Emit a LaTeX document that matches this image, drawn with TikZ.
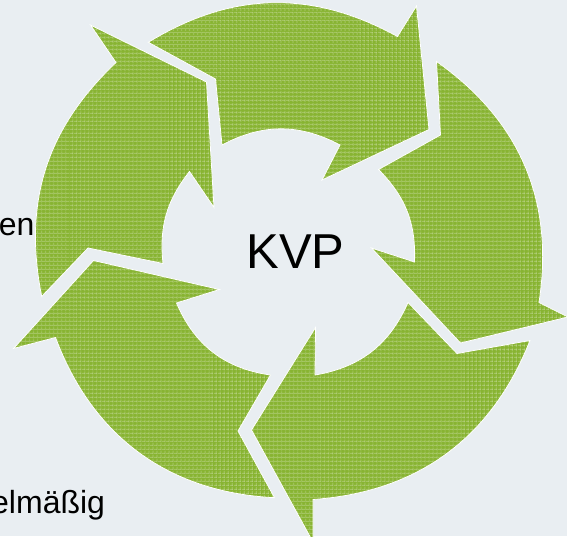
\documentclass[tikz,border=0pt]{standalone}
\usepackage{fontspec}
\setmainfont{Liberation Sans}
\usetikzlibrary{patterns.meta}
\definecolor{kvpgreen}{RGB}{136,180,50}
\definecolor{slidebg}{RGB}{233,238,242}
\begin{document}
\begin{tikzpicture}[x=1pt, y=1pt,
    segment/.style={fill=kvpgreen, draw=white, line width=0.8pt, line join=miter,
        postaction={pattern={Lines[angle=0, distance=4pt, line width=1pt]}, pattern color=white, fill opacity=0.22},
        postaction={pattern={Lines[angle=90, distance=4pt, line width=1pt]}, pattern color=white, fill opacity=0.22}},
    word/.style={anchor=base west, inner sep=0pt, font=\fontsize{32}{38}\selectfont},
    title/.style={anchor=base west, inner sep=0pt, font=\fontsize{49}{58}\selectfont}
]
    \useasboundingbox (0,0) rectangle (567,536);
    \clip (0,0) rectangle (567,536);
    \fill[slidebg] (0,0) rectangle (567,536);

    % Top arrow
    \filldraw[segment] (148.3,493.7) -- (215.5,457) -- (222,391) to[bend left=27.9] (340,391)
        -- (322,356) -- (429,406.5) -- (416.5,530) -- (397.5,499.5)
        to[bend right=30.1] (148.3,493.7) -- cycle;

    % Right arrow
    \filldraw[segment] (436.5,474.5) -- (440.5,401) -- (378.5,366.5) to[bend left=23.4] (414.5,274)
        -- (371.5,288) -- (460.5,193) -- (568,219) -- (539,233.5)
        to[bend right=31.8] (436.5,474.5) -- cycle;

    % Bottom right arrow
    \filldraw[segment] (530,195.5) -- (457,182.5) -- (408,233.5) to[bend left=28.2] (315,161)
        -- (315.5,208.5) -- (251.5,106) -- (313,-6) -- (313,36.5)
        to[bend right=32.2] (530,195.5) -- cycle;

    % Bottom left arrow
    \filldraw[segment] (274.5,38.3) -- (238,105) -- (270.5,161) to[bend left=29.3] (176.5,233)
        -- (219.5,246.5) -- (93.5,275.5) -- (13.5,187.5) -- (55.5,198.5)
        to[bend right=33.3] (274.5,38.3) -- cycle;

    % Left arrow
    \filldraw[segment] (41.7,239.5) -- (88,288) -- (163,272.5) to[bend left=21.9] (189.5,364.5)
        -- (214,328.5) -- (206.5,454) -- (90.5,511) -- (116,473.5)
        to[bend right=28.9] (41.7,239.5) -- cycle;

    % Texts
    \node[title] (kvp) at (246.4,268) {KVP};
    \node[word] (en) at (-1.3,300) {en};
    \node[word] (regular) at (-9,23) {elmäßig};
\end{tikzpicture}
\end{document}
